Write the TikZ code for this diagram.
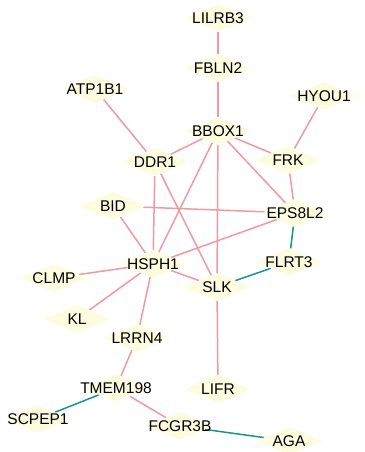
\documentclass[tikz,border=0pt]{standalone}
\usepackage{fontspec}
\setmainfont{Liberation Sans}
\usetikzlibrary{shapes.geometric,backgrounds}
\definecolor{genefill}{RGB}{252,252,222}
\definecolor{linkpink}{RGB}{242,152,162}
\definecolor{linkteal}{RGB}{22,150,132}
\tikzset{
	gene/.style={diamond,fill=genefill,minimum width=66,minimum height=28,inner sep=0pt,
		label={[font=\fontsize{15.5}{17}\selectfont,inner sep=0pt]center:#1}},
	pinklink/.style={draw=linkpink,line width=1.5},
	teallink/.style={draw=linkteal,line width=1.5},
}

\begin{document}
\begin{tikzpicture}[x=1pt,y=-1pt]
	\useasboundingbox (0,0) rectangle (364,452);
	% top of the network
	\node[gene=LILRB3] (lilrb3) at (218,18) {};
	\node[gene=FBLN2] (fbln2) at (218,68) {};
	\node[gene=ATP1B1] (atp1b1) at (95,89) {};
	\node[gene=HYOU1] (hyou1) at (324,96) {};
	\node[gene=BBOX1] (bbox1) at (218,131) {};
	\node[gene=DDR1] (ddr1) at (155,162) {};
	\node[gene=FRK] (frk) at (288,160) {};
	% middle
	\node[gene=BID] (bid) at (113,206) {};
	\node[gene=EPS8L2] (eps8l2) at (295,213) {};
	\node[gene=HSPH1] (hsph1) at (153,264) {};
	\node[gene=FLRT3] (flrt3) at (289,262) {};
	\node[gene=CLMP] (clmp) at (54,278) {};
	\node[gene=SLK] (slk) at (217,287) {};
	% bottom
	\node[gene=KL] (kl) at (77,319) {};
	\node[gene=LRRN4] (lrrn4) at (137,338) {};
	\node[gene=TMEM198] (tmem198) at (116,388) {};
	\node[gene=LIFR] (lifr) at (218,389) {};
	\node[gene=SCPEP1] (scpep1) at (38,419) {};
	\node[gene=FCGR3B] (fcgr3b) at (180,426) {};
	\node[gene=AGA] (aga) at (289,441) {};
	%
	\begin{scope}[on background layer]
		\draw[pinklink] (lilrb3) -- (fbln2) -- (bbox1);
		\draw[pinklink] (atp1b1) -- (ddr1);
		\draw[pinklink] (hyou1) -- (frk);
		\foreach \g in {ddr1,frk,eps8l2,hsph1,slk}
			\draw[pinklink] (bbox1) -- (\g);
		\draw[pinklink] (ddr1) -- (hsph1);
		\draw[pinklink] (ddr1) -- (slk);
		\draw[pinklink] (frk) -- (eps8l2);
		\draw[pinklink] (bid) -- (eps8l2);
		\draw[pinklink] (bid) -- (hsph1);
		\draw[pinklink] (eps8l2) -- (hsph1);
		\foreach \g in {slk,clmp,kl,lrrn4}
			\draw[pinklink] (hsph1) -- (\g);
		\draw[pinklink] (slk) -- (lifr);
		\draw[pinklink] (lrrn4) -- (tmem198) -- (fcgr3b);
		% teal links
		\draw[teallink] (eps8l2) -- (flrt3) -- (slk);
		\draw[teallink] (tmem198) -- (scpep1);
		\draw[teallink] (fcgr3b) -- (aga);
	\end{scope}
\end{tikzpicture}
\end{document}
